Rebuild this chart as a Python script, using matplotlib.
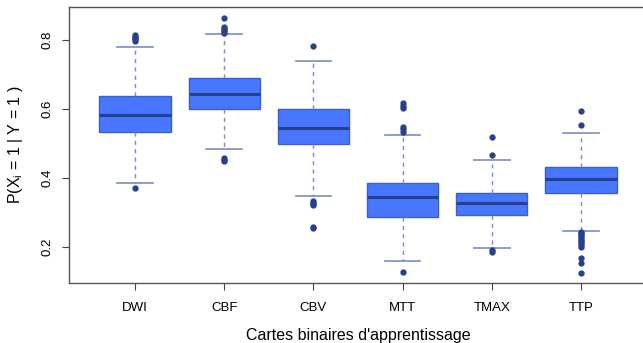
import numpy as np
import matplotlib
matplotlib.use('Agg')
import matplotlib.pyplot as plt

plt.rcParams['font.family'] = ['Liberation Sans', 'DejaVu Sans']
plt.rcParams['mathtext.default'] = 'regular'

# data
categories = ['DWI', 'CBF', 'CBV', 'MTT', 'TMAX', 'TTP']
whislo = [0.385, 0.483, 0.348, 0.160, 0.196, 0.246]
q1 = [0.532, 0.601, 0.498, 0.286, 0.293, 0.356]
med = [0.583, 0.643, 0.544, 0.343, 0.326, 0.397]
q3 = [0.637, 0.689, 0.601, 0.385, 0.357, 0.431]
whishi = [0.780, 0.817, 0.739, 0.523, 0.452, 0.530]
outliers = [
    [0.370, 0.797, 0.802, 0.806, 0.810, 0.814],
    [0.448, 0.452, 0.457, 0.820, 0.825, 0.830, 0.835, 0.839, 0.865],
    [0.254, 0.258, 0.320, 0.324, 0.328, 0.332, 0.782],
    [0.127, 0.534, 0.541, 0.549, 0.602, 0.610, 0.617],
    [0.186, 0.190, 0.465, 0.518],
    [0.124, 0.152, 0.168, 0.199, 0.206, 0.211, 0.216, 0.221, 0.226,
     0.231, 0.236, 0.240, 0.244, 0.553, 0.595],
]

fill_col = '#4876FF'
edge_col = '#3A5FCD'
dark_col = '#27408B'
whisk_col = '#7A8CC8'

stats = []
for i, name in enumerate(categories):
    stats.append(dict(label=name, whislo=whislo[i], q1=q1[i], med=med[i],
                      q3=q3[i], whishi=whishi[i], fliers=outliers[i]))

fig = plt.figure(figsize=(6.43, 3.43), dpi=100)
ax = fig.add_axes([69 / 643, 60 / 343, 578 / 643, 276 / 343])

pos = np.arange(1, len(categories) + 1)
ax.bxp(stats, positions=pos, widths=0.8, patch_artist=True,
       boxprops=dict(facecolor=fill_col, edgecolor=edge_col, linewidth=1),
       medianprops=dict(color=dark_col, linewidth=2.2),
       whiskerprops=dict(color=whisk_col, linestyle=(0, (3, 3)), linewidth=1),
       capprops=dict(color=whisk_col, linewidth=1.2),
       flierprops=dict(marker='o', markerfacecolor=dark_col, markeredgecolor=dark_col,
                       markersize=3.5, linestyle='none'),
       capwidths=0.4)

ax.set_xlim(0.26, 6.74)
ax.set_ylim(0.0948, 0.896)
ax.set_yticks([0.2, 0.4, 0.6, 0.8])
ax.set_yticklabels(['0.2', '0.4', '0.6', '0.8'], rotation=90, va='center')
ax.set_xticks(pos)
ax.set_xticklabels(categories)
ax.tick_params(axis='both', labelsize=9.5, length=5, width=0.8, color='#444444', pad=6)
ax.tick_params(axis='x', pad=9)

for s in ['left', 'bottom', 'top']:
    ax.spines[s].set_color('#555555')
    ax.spines[s].set_linewidth(1)
ax.spines['right'].set_visible(False)

ax.set_xlabel("Cartes binaires d'apprentissage", fontsize=11.5, labelpad=10)
ax.set_ylabel('P(X$_i$ = 1 | Y = 1 )', fontsize=11.5, labelpad=12)

fig.savefig('out.png', dpi=100)
